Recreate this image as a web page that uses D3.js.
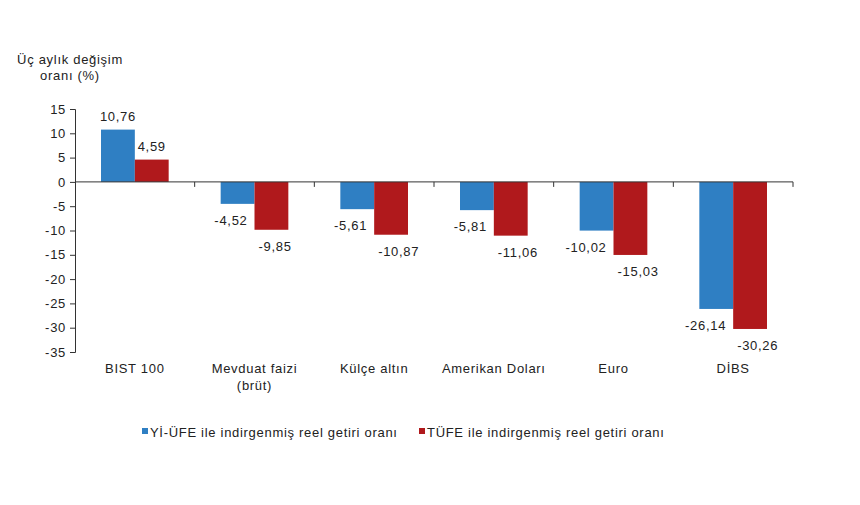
<!DOCTYPE html>
<html><head><meta charset="utf-8">
<script src="https://cdn.jsdelivr.net/npm/d3@7"></script>
<style>body{margin:0;background:#fff}text{font-family:"Liberation Sans",Arial,sans-serif;fill:#222;font-size:13px;letter-spacing:0.7px}</style>
</head><body>
<svg id="c" width="860" height="505"></svg>
<script>
const categories = [["BIST 100"],["Mevduat faizi","(brüt)"],["Külçe altın"],["Amerikan Doları"],["Euro"],["DİBS"]];
const yiUfe = [10.76,-4.52,-5.61,-5.81,-10.02,-26.14];
const tufe = [4.59,-9.85,-10.87,-11.06,-15.03,-30.26];
const seriesNames = ["Yİ-ÜFE ile indirgenmiş reel getiri oranı","TÜFE ile indirgenmiş reel getiri oranı"];
const yTicks = [15,10,5,0,-5,-10,-15,-20,-25,-30,-35];
const colors = ["#2f7fc3","#b0191c"];

const svg = d3.select("#c");
const x0 = d3.scaleBand().domain(d3.range(categories.length)).range([75,793]).paddingInner(0).paddingOuter(0);
const y = d3.scaleLinear().domain([-35,15]).range([352,109]);
const x1 = d3.scaleBand().domain([0,1]).range([26, x0.bandwidth()-26]);

// y axis
const ya = svg.append("g").attr("transform","translate(75,0)")
  .call(d3.axisLeft(y).tickValues(yTicks).tickSize(5).tickPadding(4).tickFormat(d=>String(d)));
ya.selectAll("text").attr("fill","#222").style("font-size","13px").attr("font-family",null);
ya.select(".domain").attr("stroke","#333");
ya.selectAll(".tick line").attr("stroke","#333");

const series = [yiUfe, tufe];
const fmt = v => v.toFixed(2).replace(".",",");
series.forEach((vals,s)=>{
  svg.append("g").selectAll("rect").data(vals).join("rect")
    .attr("x",(d,i)=>x0(i)+x1(s))
    .attr("width",x1.bandwidth())
    .attr("y",d=>y(Math.max(0,d)))
    .attr("height",d=>Math.abs(y(d)-y(0)))
    .attr("fill",colors[s]);
  svg.append("g").selectAll("text").data(vals).join("text")
    .attr("x",(d,i)=>{
      const bx = x0(i)+x1(s);
      if (d>=0) return bx+x1.bandwidth()/2;
      return s===0 ? bx+x1.bandwidth()-7 : bx+4;
    })
    .attr("y",d=> d>=0 ? y(d)-9 : y(d)+21)
    .attr("text-anchor",d=> d>=0 ? "middle" : (s===0?"end":"start"))
    .text(fmt);
});

// x axis line at 0
svg.append("line").attr("x1",75).attr("x2",793).attr("y1",y(0)).attr("y2",y(0)).attr("stroke","#333");
svg.append("g").selectAll("line").data(d3.range(1,categories.length+1)).join("line")
  .attr("x1",i=>x0.range()[0]+i*x0.bandwidth()).attr("x2",i=>x0.range()[0]+i*x0.bandwidth())
  .attr("y1",y(0)).attr("y2",y(0)+5).attr("stroke","#333");

// category labels
categories.forEach((lines,i)=>{
  const cx = x0(i)+x0.bandwidth()/2;
  const t = svg.append("text").attr("text-anchor","middle").attr("x",cx).attr("y",373);
  lines.forEach((l,j)=>t.append("tspan").attr("x",cx).attr("dy",j?17:0).text(l));
});

// title
const tt = svg.append("text").attr("text-anchor","middle");
tt.append("tspan").attr("x",70).attr("y",64).text("Üç aylık değişim");
tt.append("tspan").attr("x",70).attr("y",80).text("oranı (%)");

// legend
const leg = [[142,seriesNames[0]],[419,seriesNames[1]]];
leg.forEach(([lx,name],s)=>{
  svg.append("rect").attr("x",lx).attr("y",428).attr("width",6).attr("height",6).attr("fill",colors[s]);
  svg.append("text").attr("x",lx+8).attr("y",437).text(name);
});
</script>
</body></html>
